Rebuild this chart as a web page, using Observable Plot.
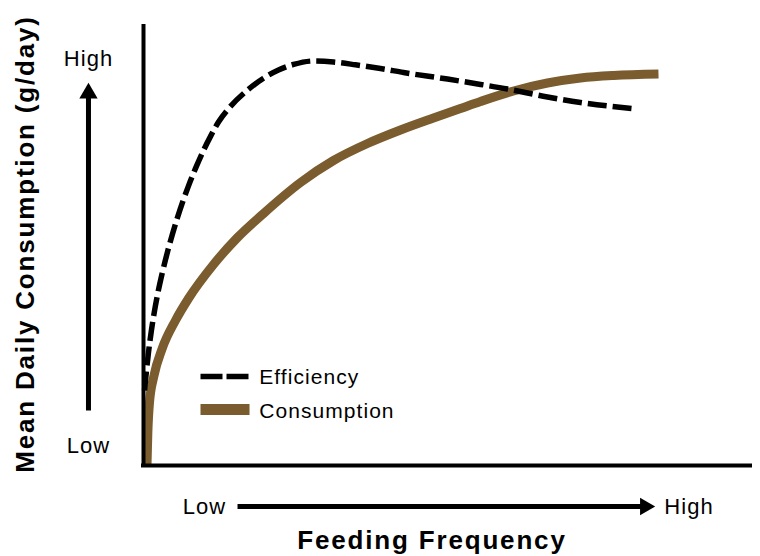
<!DOCTYPE html>
<html>
<head>
<meta charset="utf-8">
<script src="https://cdn.jsdelivr.net/npm/d3@7"></script>
<script src="https://cdn.jsdelivr.net/npm/@observablehq/plot@0.6"></script>
<style>
  html, body { margin: 0; padding: 0; background: #ffffff; }
  #chart text { letter-spacing: 0.05em; }
  #chart g[font-weight="bold"] text { letter-spacing: 0.07em; }
</style>
</head>
<body>
<div id="chart"></div>
<script>
// ---- data (abstract units: 0..100 on both axes) ----
const seriesNames = ["Efficiency", "Consumption"];

const efficiencyX = [0.17, 0.5, 0.83, 1.33, 1.83, 2.33, 3.17, 4.0, 4.83, 5.67, 6.5, 7.5, 8.67, 10.0, 11.17, 12.5, 14.5, 17.33, 20.0, 22.5, 25.0, 28.33, 31.67, 35.33, 39.5, 43.33, 50.67, 56.17, 60.67, 67.33, 72.83, 81.33];
const efficiencyY = [17.05, 21.59, 25.68, 30.8, 35.09, 38.77, 44.0, 48.55, 52.64, 56.39, 59.8, 63.55, 67.52, 71.61, 74.8, 78.07, 81.61, 85.3, 88.02, 89.89, 91.14, 91.93, 91.7, 91.07, 90.23, 89.32, 87.82, 86.61, 85.57, 83.75, 82.5, 81.14];

const consumptionX = [0.58, 0.72, 1.0, 1.72, 3.12, 5.33, 7.5, 11.67, 15.67, 20.0, 26.17, 31.67, 37.33, 42.83, 48.33, 52.83, 56.17, 61.67, 67.33, 72.83, 78.33, 85.83];
const consumptionY = [0, 7.27, 14.32, 20.23, 26.59, 32.95, 37.95, 45.68, 51.82, 57.27, 64.32, 69.32, 73.18, 76.25, 78.98, 81.14, 82.73, 85.11, 86.93, 88.07, 88.64, 88.98];

const xTickValues = [10.17, 90.92];
const xTickLabels = ["Low", "High"];
const yTickValues = [4.5, 92.5];
const yTickLabels = ["Low", "High"];

const xTitle = "Feeding Frequency";
const yTitle = "Mean Daily Consumption (g/day)";

// ---- build tables ----
const efficiency = efficiencyX.map((x, i) => ({x, y: efficiencyY[i]}));
const consumption = consumptionX.map((x, i) => ({x, y: consumptionY[i]}));

// ---- styles ----
const brown = "#7a5c2e";
const ink = "#000000";
const font = "'Liberation Sans', Arial, Helvetica, sans-serif";

const chart = Plot.plot({
  width: 760,
  height: 556,
  marginTop: 26,
  marginRight: 10,
  marginBottom: 91,
  marginLeft: 143,
  x: {domain: [0, 100], range: [143, 743]},
  y: {domain: [0, 100], range: [465, 25]},
  style: {fontFamily: font, background: "#ffffff", color: ink, overflow: "visible"},
  marks: [
    // curves
    Plot.line(consumption, {x: "x", y: "y", stroke: brown, strokeWidth: 9, curve: "monotone-x", strokeLinecap: "butt", strokeLinejoin: "round"}),
    Plot.line(efficiency, {x: "x", y: "y", stroke: ink, strokeWidth: 5.5, strokeDasharray: "19,6", curve: "monotone-x", strokeLinecap: "butt"}),

    // frame axes lines
    Plot.ruleX([0], {stroke: ink, strokeWidth: 4, strokeLinecap: "square"}),
    Plot.ruleY([0], {stroke: ink, strokeWidth: 4, strokeLinecap: "square"}),

    // Low / High tick labels
    Plot.axisY(yTickValues, {tickFormat: d => yTickLabels[yTickValues.indexOf(d)], tickSize: 0, tickPadding: 55, textAnchor: "middle", fontSize: 22, label: null, fill: ink}),
    Plot.axisX(xTickValues, {tickFormat: d => xTickLabels[xTickValues.indexOf(d)], tickSize: 0, tickPadding: 33, fontSize: 22, label: null, fill: ink}),

    // vertical arrow (left)
    Plot.link([0], {x1: -9.17, x2: -9.17, y1: 12.5, y2: 84.6, stroke: ink, strokeWidth: 5}),
    Plot.dot([0], {x: -9.17, y: 84.6, symbol: "triangle", r: 6.8, fill: ink, stroke: null}),

    // horizontal arrow (bottom)
    Plot.link([0], {x1: 15.67, x2: 83.6, y1: -9.32, y2: -9.32, stroke: ink, strokeWidth: 5}),
    Plot.dot([0], {x: 83.6, y: -9.32, symbol: "triangle", r: 6.5, rotate: 90, fill: ink, stroke: null}),

    // legend
    Plot.link([0], {x1: 9.5, x2: 17.67, y1: 20.2, y2: 20.2, stroke: ink, strokeWidth: 5.5, strokeDasharray: "22,4"}),
    Plot.link([0], {x1: 9.5, x2: 17.67, y1: 12.7, y2: 12.7, stroke: brown, strokeWidth: 11}),
    Plot.text(seriesNames, {text: d => d, x: 19.3, y: [20.1, 12.4], textAnchor: "start", lineAnchor: "middle", fontSize: 21, fill: ink}),

    // axis titles
    Plot.text([yTitle], {text: d => d, frameAnchor: "left", rotate: -90, textAnchor: "middle", lineAnchor: "middle", dx: -118, dy: -2, fontSize: 26, fontWeight: "bold", fill: ink}),
    Plot.text([xTitle], {text: d => d, frameAnchor: "bottom", textAnchor: "middle", lineAnchor: "middle", dx: -15, dy: 75.5, fontSize: 26, fontWeight: "bold", fill: ink})
  ]
});

document.getElementById("chart").appendChild(chart);
</script>
</body>
</html>
